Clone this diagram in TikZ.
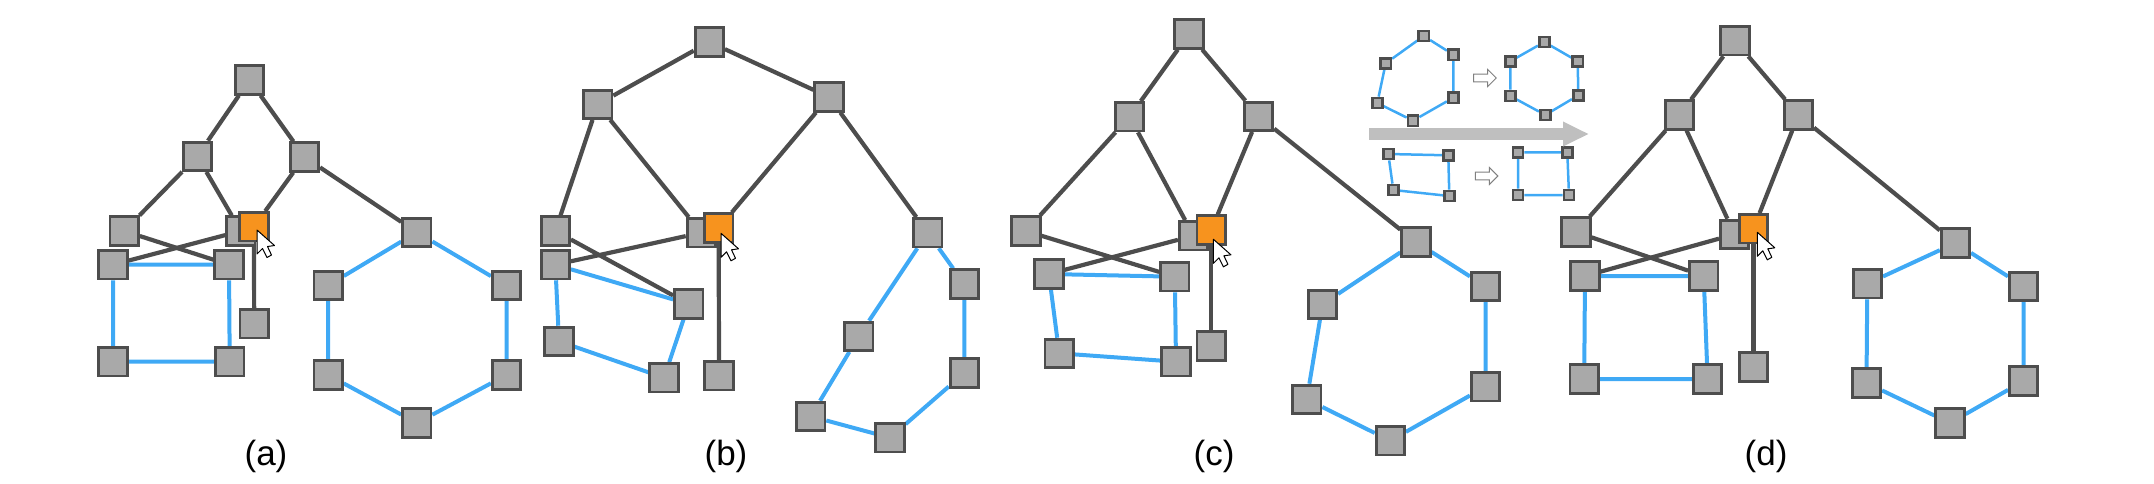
\documentclass[tikz,border=0pt]{standalone}
\usepackage{fontspec}
\setmainfont{Liberation Sans}
\usetikzlibrary{arrows.meta,backgrounds,shapes.arrows}
\definecolor{boxgray}{HTML}{A9A9A9}
\definecolor{edgegray}{HTML}{4D4D4D}
\definecolor{linkblue}{HTML}{3FA9F5}
\definecolor{hoverorange}{HTML}{F7931E}
\tikzstyle{box}      = [rectangle, draw=edgegray, fill=boxgray, line width=2.8pt, minimum size=28.4pt, inner sep=0pt]
\tikzstyle{hover}    = [box, fill=hoverorange]
\tikzstyle{mini}     = [box, line width=2.6pt, minimum size=10.2pt]
\tikzstyle{tree}     = [draw=edgegray, line width=4.2pt]
\tikzstyle{link}     = [draw=linkblue, line width=4pt]
\tikzstyle{minilink} = [draw=linkblue, line width=2.5pt]
\tikzstyle{step arrow} = [single arrow, draw=gray, fill=white, line width=1pt, minimum height=22.6pt, minimum width=16pt, single arrow head extend=4.7pt, inner sep=3.3pt]
\tikzstyle{big arrow}  = [draw=black!25, line width=12.7pt, -{Triangle[length=26pt,width=23pt]}]
\tikzstyle{caption}  = [font=\fontsize{35}{40}\selectfont, inner sep=0pt]
\tikzset{pointer/.pic={
    \draw[fill=white, draw=black, line width=1pt, line join=round]
        (0,0) -- (0,24) -- (5.5,18.5) -- (10,27.5) -- (14.5,25) -- (10.5,16.5) -- (17.5,15.5) -- cycle;
}}

\begin{document}
\begin{tikzpicture}[x=1pt,y=-1pt]
    \useasboundingbox (0,0) rectangle (2154,483);

    % panel a
    \node[box] (atop) at (249.5,80) {};
    \node[box] (al) at (197.3,156.3) {};
    \node[box] (ar) at (304.5,157) {};
    \node[box] (all) at (124.2,231) {};
    \node[box] (alm) at (240.8,231) {};
    \node[hover] (ahov) at (253.9,226.7) {};
    \node[box] (aleaf) at (254.2,323.7) {};
    \node[box] (as1) at (113,264.7) {};
    \node[box] (as2) at (229,264.7) {};
    \node[box] (as3) at (113,361.7) {};
    \node[box] (as4) at (229.7,361.7) {};
    \node[box] (ah1) at (416.8,232.3) {};
    \node[box] (ah2) at (506.5,285.3) {};
    \node[box] (ah3) at (506.5,375) {};
    \node[box] (ah4) at (416.8,423) {};
    \node[box] (ah5) at (328.2,375) {};
    \node[box] (ah6) at (328.2,285.3) {};
    \pic at (257,230) {pointer};
    \node[caption] (acap) at (266,456.7) {(a)};

    % panel b
    \node[box] (btop) at (709.3,42) {};
    \node[box] (bl) at (597.7,104.3) {};
    \node[box] (br) at (829,97) {};
    \node[box] (bll) at (555.3,231) {};
    \node[box] (blm) at (701.3,232.7) {};
    \node[hover] (bhov) at (718.7,228) {};
    \node[box] (bleaf) at (719,375.7) {};
    \node[box] (bs1) at (555.3,264.7) {};
    \node[box] (bs2) at (688.7,304) {};
    \node[box] (bs3) at (559,341.3) {};
    \node[box] (bs4) at (664,377.7) {};
    \node[box] (bh1) at (927.7,232.7) {};
    \node[box] (bh2) at (964.3,284) {};
    \node[box] (bh3) at (964.3,373) {};
    \node[box] (bh4) at (890,437.7) {};
    \node[box] (bh5) at (810.7,416.3) {};
    \node[box] (bh6) at (858.7,336.3) {};
    \pic at (721,233.3) {pointer};
    \node[caption] (bcap) at (726,456.7) {(b)};

    % panel c
    \node[box] (ctop) at (1189,34) {};
    \node[box] (cl) at (1129.6,116.7) {};
    \node[box] (cr) at (1258.6,116.3) {};
    \node[box] (cll) at (1025.9,231) {};
    \node[box] (clm) at (1193.5,235.7) {};
    \node[hover] (chov) at (1211.2,230) {};
    \node[box] (cleaf) at (1211.2,346) {};
    \node[box] (cs1) at (1048.9,274) {};
    \node[box] (cs2) at (1174.8,276.7) {};
    \node[box] (cs3) at (1059.2,353.3) {};
    \node[box] (cs4) at (1176,361.7) {};
    \node[box] (ch1) at (1415.9,242) {};
    \node[box] (ch2) at (1485.5,286.3) {};
    \node[box] (ch3) at (1485.5,386.7) {};
    \node[box] (ch4) at (1390.3,440.7) {};
    \node[box] (ch5) at (1306.8,399.3) {};
    \node[box] (ch6) at (1322.5,304.3) {};
    \pic at (1213.4,239.3) {pointer};
    \node[caption] (ccap) at (1214,456.7) {(c)};

    % panel d
    \node[box] (dtop) at (1735,40.7) {};
    \node[box] (dl) at (1679.4,115) {};
    \node[box] (dr) at (1798.4,115) {};
    \node[box] (dll) at (1576,232) {};
    \node[box] (dlm) at (1734.6,234.3) {};
    \node[hover] (dhov) at (1753.4,228.7) {};
    \node[box] (dleaf) at (1753.4,367) {};
    \node[box] (ds1) at (1585,276) {};
    \node[box] (ds2) at (1703.7,276) {};
    \node[box] (ds3) at (1584.2,379) {};
    \node[box] (ds4) at (1707.6,379) {};
    \node[box] (dh1) at (1955.4,243) {};
    \node[box] (dh2) at (2023.6,286.3) {};
    \node[box] (dh3) at (2023.6,381) {};
    \node[box] (dh4) at (1950,423) {};
    \node[box] (dh5) at (1866.5,383) {};
    \node[box] (dh6) at (1867.3,283.7) {};
    \pic at (1757.3,232.3) {pointer};
    \node[caption] (dcap) at (1766,456.7) {(d)};

    % inset
    \node[mini] (p1) at (1423.7,36) {};
    \node[mini] (p2) at (1453.3,54.7) {};
    \node[mini] (p3) at (1453.3,97.7) {};
    \node[mini] (p4) at (1413,120.7) {};
    \node[mini] (p5) at (1377.3,103) {};
    \node[mini] (p6) at (1385.7,63.3) {};
    \node[mini] (q1) at (1544.3,42) {};
    \node[mini] (q2) at (1577.7,61.3) {};
    \node[mini] (q3) at (1578.3,95.3) {};
    \node[mini] (q4) at (1545.3,115) {};
    \node[mini] (q5) at (1510.3,96) {};
    \node[mini] (q6) at (1510.3,61.3) {};
    \node[mini] (u1) at (1388.3,154) {};
    \node[mini] (u2) at (1448.3,155.3) {};
    \node[mini] (u3) at (1449.3,196) {};
    \node[mini] (u4) at (1393.3,190) {};
    \node[mini] (v1) at (1518,152.3) {};
    \node[mini] (v2) at (1567.3,152.3) {};
    \node[mini] (v3) at (1569,195) {};
    \node[mini] (v4) at (1518,195) {};
    \node[step arrow] (hexstep) at (1483,78) {};
    \node[step arrow] (sqstep) at (1484.7,176) {};
    \coordinate (bigfrom) at (1369,134);
    \coordinate (bigto) at (1589,134);
    \draw[big arrow] (bigfrom) -- (bigto);

    \begin{pgfonlayer}{background}
        \draw[tree] (atop) -- (al);
        \draw[tree] (atop) -- (ar);
        \draw[tree] (al) -- (all);
        \draw[tree] (al) -- (alm);
        \draw[tree] (ar) -- (ahov);
        \draw[tree] (ar) -- (ah1);
        \draw[tree] (all) -- (as2);
        \draw[tree] (alm) -- (as1);
        \draw[tree] (ahov) -- (aleaf);
        \draw[link] (as1) -- (as2) -- (as4) -- (as3) -- (as1);
        \draw[link] (ah1) -- (ah2) -- (ah3) -- (ah4) -- (ah5) -- (ah6) -- (ah1);

        \draw[tree] (btop) -- (bl);
        \draw[tree] (btop) -- (br);
        \draw[tree] (bl) -- (bll);
        \draw[tree] (bl) -- (blm);
        \draw[tree] (br) -- (bhov);
        \draw[tree] (br) -- (bh1);
        \draw[tree] (bll) -- (bs2);
        \draw[tree] (blm) -- (bs1);
        \draw[tree] (bhov) -- (bleaf);
        \draw[link] (bs1) -- (bs2) -- (bs4) -- (bs3) -- (bs1);
        \draw[link] (bh1) -- (bh2) -- (bh3) -- (bh4) -- (bh5) -- (bh6) -- (bh1);

        \draw[tree] (ctop) -- (cl);
        \draw[tree] (ctop) -- (cr);
        \draw[tree] (cl) -- (cll);
        \draw[tree] (cl) -- (clm);
        \draw[tree] (cr) -- (chov);
        \draw[tree] (cr) -- (ch1);
        \draw[tree] (cll) -- (cs2);
        \draw[tree] (clm) -- (cs1);
        \draw[tree] (chov) -- (cleaf);
        \draw[link] (cs1) -- (cs2) -- (cs4) -- (cs3) -- (cs1);
        \draw[link] (ch1) -- (ch2) -- (ch3) -- (ch4) -- (ch5) -- (ch6) -- (ch1);

        \draw[tree] (dtop) -- (dl);
        \draw[tree] (dtop) -- (dr);
        \draw[tree] (dl) -- (dll);
        \draw[tree] (dl) -- (dlm);
        \draw[tree] (dr) -- (dhov);
        \draw[tree] (dr) -- (dh1);
        \draw[tree] (dll) -- (ds2);
        \draw[tree] (dlm) -- (ds1);
        \draw[tree] (dhov) -- (dleaf);
        \draw[link] (ds1) -- (ds2) -- (ds4) -- (ds3) -- (ds1);
        \draw[link] (dh1) -- (dh2) -- (dh3) -- (dh4) -- (dh5) -- (dh6) -- (dh1);

        \draw[minilink] (p1) -- (p2) -- (p3) -- (p4) -- (p5) -- (p6) -- (p1);
        \draw[minilink] (q1) -- (q2) -- (q3) -- (q4) -- (q5) -- (q6) -- (q1);
        \draw[minilink] (u1) -- (u2) -- (u3) -- (u4) -- (u1);
        \draw[minilink] (v1) -- (v2) -- (v3) -- (v4) -- (v1);
    \end{pgfonlayer}
\end{tikzpicture}
\end{document}
